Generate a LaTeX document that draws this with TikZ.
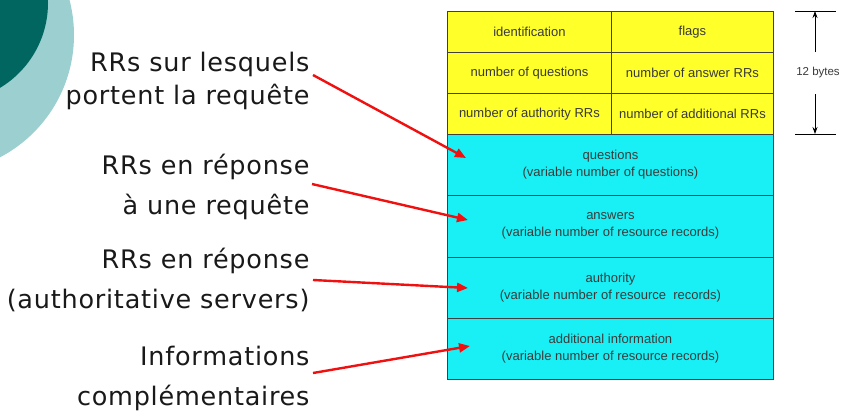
\documentclass[tikz,border=0pt]{standalone}
\usepackage{fontspec}
\setmainfont{DejaVu Sans}
\newfontfamily\lblfont[LetterSpace=3]{DejaVu Sans}
\newfontfamily\arialfont{Liberation Sans}
\usetikzlibrary{arrows.meta}
\definecolor{darkteal}{HTML}{00665F}
\definecolor{lightteal}{HTML}{9BCFD0}
\definecolor{hdryellow}{HTML}{FFFF2A}
\definecolor{bodycyan}{HTML}{18F0F5}
\definecolor{gridgray}{HTML}{404040}
\definecolor{celltext}{HTML}{3A3A3A}
\definecolor{arrowred}{HTML}{F01010}
\tikzset{
  cellbase/.style={draw=gridgray, line width=0.9pt, anchor=north west, inner sep=0pt,
    font=\arialfont\fontsize{13}{17}\selectfont, text=celltext, align=center},
  ycell/.style={cellbase, fill=hdryellow, minimum height=41pt},
  ccell/.style={cellbase, fill=bodycyan, minimum height=61.25pt, minimum width=326pt},
  lbl/.style={align=right, anchor=east, text=black!90},
  lblwide/.style={lbl, font=\lblfont\fontsize{25.5}{40}\selectfont},
  lbltight/.style={lbl, font=\lblfont\fontsize{25.5}{33}\selectfont},
  redarrow/.style={draw=arrowred, line width=2.4pt, -{Triangle[length=11pt,width=9pt]}},
  dimarrow/.style={draw=black, line width=0.8pt, -{Stealth[length=7pt,width=5pt]}},
}
\begin{document}
\begin{tikzpicture}[x=1pt,y=-1pt]
\useasboundingbox (0,0) rectangle (845,410);
\begin{scope}
  \clip (0,0) rectangle (845,410);
  \fill[lightteal] (-64,35) circle[radius=138];
  \fill[darkteal] (-51,3) circle[radius=99];
\end{scope}
% header rows
\node[ycell, minimum width=164pt] (id) at (447,11) {identification};
\node[ycell, minimum width=162pt] (fl) at (611,11) {flags};
\node[ycell, minimum width=164pt] (nq) at (447,52) {number of questions};
\node[ycell, minimum width=162pt] (na) at (611,52) {number of answer RRs};
\node[ycell, minimum width=164pt] (nau) at (447,93) {number of authority RRs};
\node[ycell, minimum width=162pt] (nad) at (611,93) {number of additional RRs};
% body rows
\node[ccell] (qu) at (447,134) {questions\\(variable number of questions)};
\node[ccell] (an) at (447,195.25) {answers\\(variable number of resource records)};
\node[ccell] (au) at (447,256.5) {authority\\(variable number of resource\ \ records)};
\node[ccell] (ad) at (447,317.75) {additional information\\(variable number of resource records)};
% 12 bytes dimension
\coordinate (tt1) at (795,11); \coordinate (tt2) at (836,11);
\coordinate (bt1) at (795,134); \coordinate (bt2) at (836,134);
\draw[line width=0.8pt] (tt1) -- (tt2);
\draw[line width=0.8pt] (bt1) -- (bt2);
\node[font=\arialfont\fontsize{11.5}{13}\selectfont, text=celltext, inner sep=2pt] (tb) at (818,73) {12 bytes};
\coordinate (tu) at (815,11); \coordinate (td) at (815,134);
\coordinate (su) at (815,52); \coordinate (sd) at (815,94);
\draw[dimarrow] (su) -- (tu);
\draw[dimarrow] (sd) -- (td);
% labels
\node[lbltight] (l1) at (313,81) {RRs sur lesquels\\portent la requête};
\node[lblwide] (l2) at (313,187) {RRs en réponse\\à une requête};
\node[lblwide] (l3) at (313,279.5) {RRs en réponse\\(authoritative servers)};
\node[lblwide] (l4) at (313,378) {Informations\ \\complémentaires};
% arrows
\coordinate (s1) at (313,75);  \coordinate (e1) at (466,158);
\coordinate (s2) at (312,184); \coordinate (e2) at (468,220);
\coordinate (s3) at (313,280); \coordinate (e3) at (468,288);
\coordinate (s4) at (313,373); \coordinate (e4) at (470,346);
\draw[redarrow] (s1) -- (e1);
\draw[redarrow] (s2) -- (e2);
\draw[redarrow] (s3) -- (e3);
\draw[redarrow] (s4) -- (e4);
\end{tikzpicture}
\end{document}
